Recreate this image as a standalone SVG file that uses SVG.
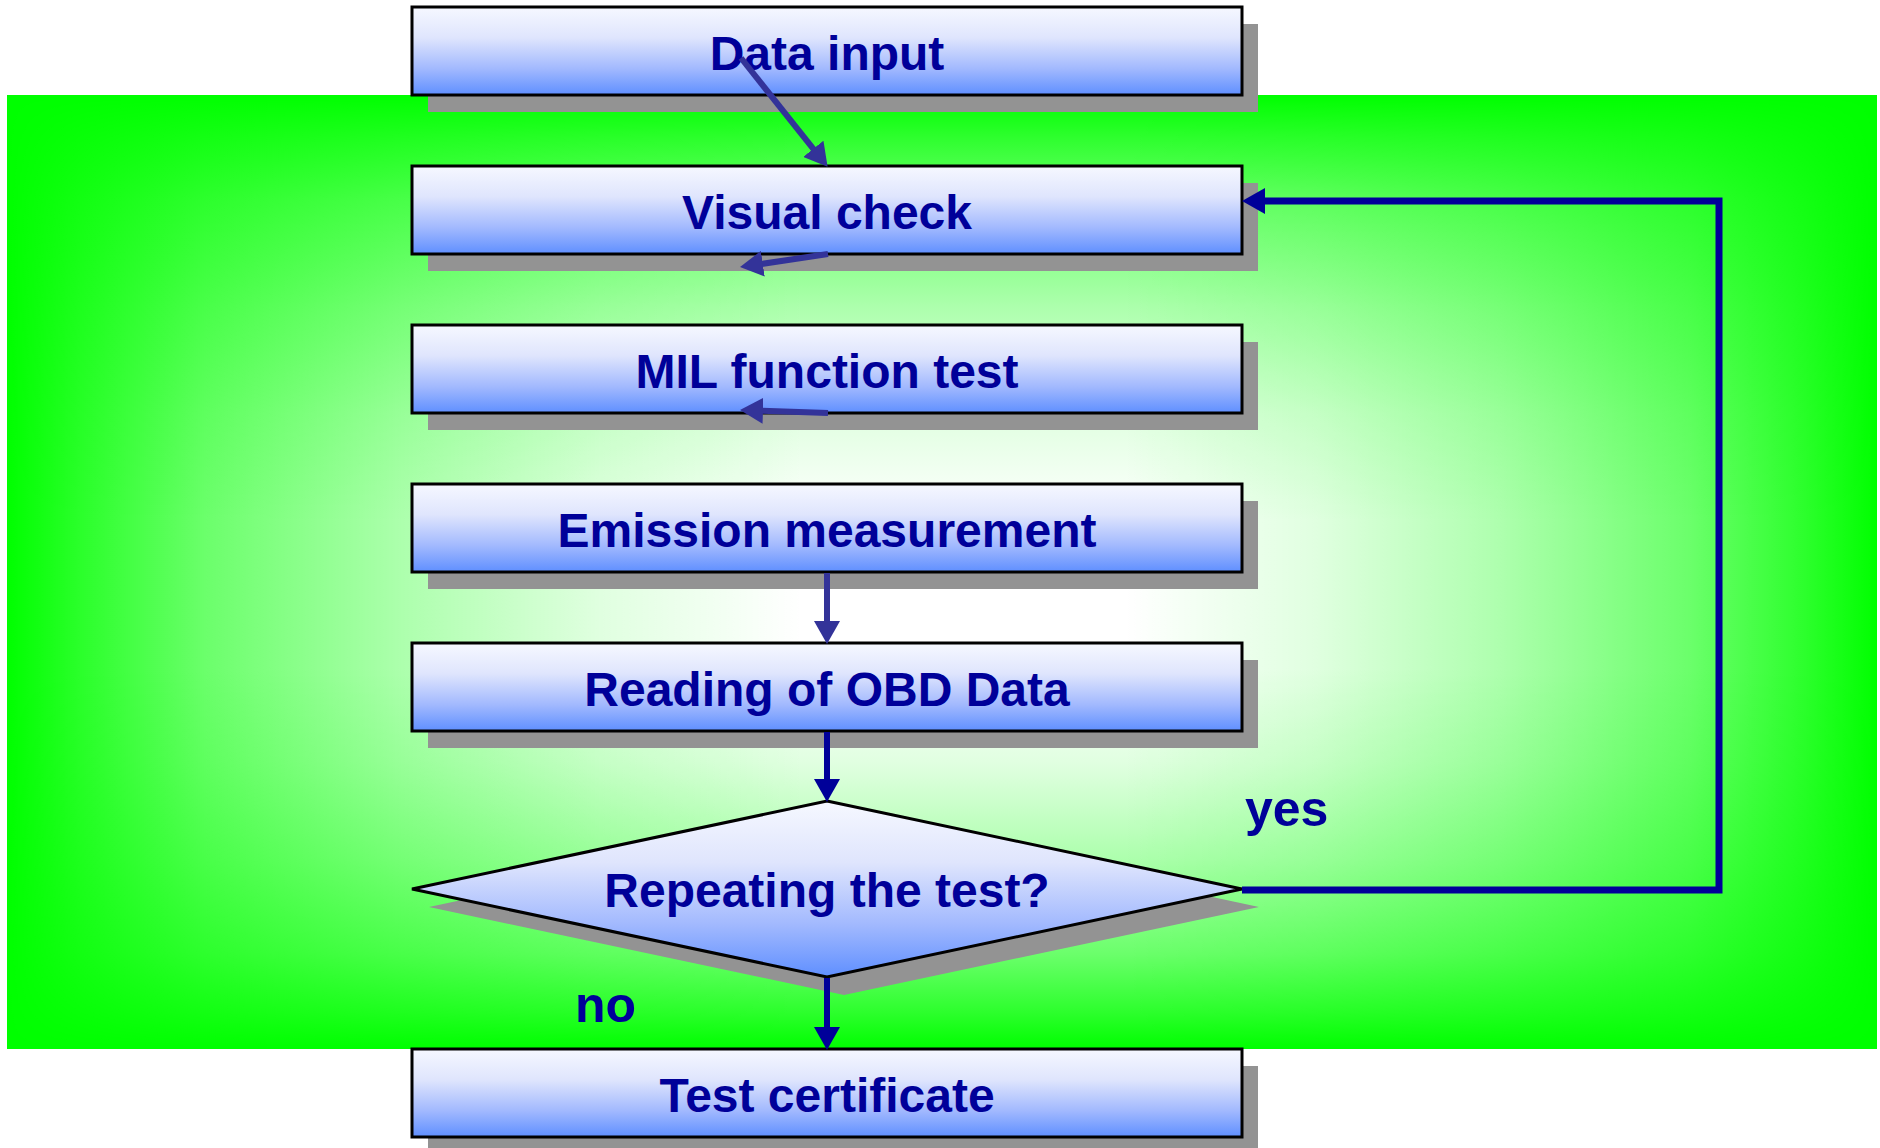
<svg xmlns="http://www.w3.org/2000/svg" width="1880" height="1148" viewBox="0 0 1880 1148">
  <defs>
    <!-- horizontal part of the backdrop glow: white whose opacity fades towards the left and right edges -->
    <linearGradient id="glowAcross" gradientUnits="userSpaceOnUse" x1="7" y1="0" x2="1877" y2="0">
      <stop offset="0" stop-color="#ffffff" stop-opacity="0"/>
      <stop offset="0.0422" stop-color="#ffffff" stop-opacity="0.18"/>
      <stop offset="0.1059" stop-color="#ffffff" stop-opacity="0.42"/>
      <stop offset="0.212" stop-color="#ffffff" stop-opacity="0.68"/>
      <stop offset="0.3182" stop-color="#ffffff" stop-opacity="0.88"/>
      <stop offset="0.4241" stop-color="#ffffff" stop-opacity="1"/>
      <stop offset="0.5989" stop-color="#ffffff" stop-opacity="1"/>
      <stop offset="0.6992" stop-color="#ffffff" stop-opacity="0.88"/>
      <stop offset="0.7995" stop-color="#ffffff" stop-opacity="0.68"/>
      <stop offset="0.8997" stop-color="#ffffff" stop-opacity="0.42"/>
      <stop offset="0.9599" stop-color="#ffffff" stop-opacity="0.18"/>
      <stop offset="1" stop-color="#ffffff" stop-opacity="0"/>
    </linearGradient>
    <!-- vertical part of the glow, used as a luminance mask -->
    <linearGradient id="glowDown" gradientUnits="userSpaceOnUse" x1="0" y1="95" x2="0" y2="1049">
      <stop offset="0" stop-color="#000000"/>
      <stop offset="0.0446" stop-color="#2e2e2e"/>
      <stop offset="0.1111" stop-color="#6b6b6b"/>
      <stop offset="0.2227" stop-color="#adadad"/>
      <stop offset="0.3344" stop-color="#e0e0e0"/>
      <stop offset="0.4455" stop-color="#ffffff"/>
      <stop offset="0.6017" stop-color="#ffffff"/>
      <stop offset="0.7013" stop-color="#e0e0e0"/>
      <stop offset="0.8008" stop-color="#adadad"/>
      <stop offset="0.9004" stop-color="#6b6b6b"/>
      <stop offset="0.9602" stop-color="#2e2e2e"/>
      <stop offset="1" stop-color="#000000"/>
    </linearGradient>
    <mask id="glowMask" maskUnits="userSpaceOnUse" x="7" y="95" width="1870" height="954">
      <rect x="7" y="95" width="1870" height="954" fill="url(#glowDown)"/>
    </mask>
    <linearGradient id="nodeFill" x1="0" y1="0" x2="0" y2="1">
      <stop offset="0" stop-color="#f6f8ff"/>
      <stop offset="0.35" stop-color="#dfe5fd"/>
      <stop offset="0.7" stop-color="#a2b9fe"/>
      <stop offset="1" stop-color="#5f8fff"/>
    </linearGradient>
    <marker id="headSlate" markerUnits="userSpaceOnUse" markerWidth="24" markerHeight="26" refX="10" refY="13" orient="auto">
      <path d="M0,0 L23,13 L0,26 z" fill="#333399"/>
    </marker>
    <marker id="headNavy" markerUnits="userSpaceOnUse" markerWidth="24" markerHeight="26" refX="10" refY="13" orient="auto">
      <path d="M0,0 L23,13 L0,26 z" fill="#000099"/>
    </marker>
  </defs>
  <style>
    .shadow { fill: #939393; }
    .node { fill: url(#nodeFill); stroke: #000000; stroke-width: 3; }
    .label { font-family: "Liberation Sans", Arial, sans-serif; font-weight: bold; font-size: 48px; fill: #000099; text-anchor: middle; }
    .branch { font-family: "Liberation Sans", Arial, sans-serif; font-weight: bold; font-size: 50px; fill: #000099; }
    .flow { fill: none; stroke-width: 6; }
    .slate { stroke: #333399; marker-end: url(#headSlate); }
    .navy { stroke: #000099; marker-end: url(#headNavy); }
  </style>

  <!-- green backdrop with a soft white glow in the middle -->
  <g id="backdrop">
    <rect x="7" y="95" width="1870" height="954" fill="#00ff00"/>
    <rect x="7" y="95" width="1870" height="954" fill="url(#glowAcross)" mask="url(#glowMask)"/>
  </g>

  <g id="data-input">
    <rect class="shadow" x="428" y="24" width="830" height="88"/>
    <rect class="node" x="412" y="7" width="830" height="88"/>
    <text class="label" x="827" y="70">Data input</text>
  </g>

  <g id="visual-check">
    <rect class="shadow" x="428" y="183" width="830" height="88"/>
    <rect class="node" x="412" y="166" width="830" height="88"/>
    <text class="label" x="827" y="229">Visual check</text>
  </g>

  <g id="mil-function-test">
    <rect class="shadow" x="428" y="342" width="830" height="88"/>
    <rect class="node" x="412" y="325" width="830" height="88"/>
    <text class="label" x="827" y="388">MIL function test</text>
  </g>

  <g id="emission-measurement">
    <rect class="shadow" x="428" y="501" width="830" height="88"/>
    <rect class="node" x="412" y="484" width="830" height="88"/>
    <text class="label" x="827" y="547">Emission measurement</text>
  </g>

  <g id="reading-obd-data">
    <rect class="shadow" x="428" y="660" width="830" height="88"/>
    <rect class="node" x="412" y="643" width="830" height="88"/>
    <text class="label" x="827" y="706">Reading of OBD Data</text>
  </g>

  <g id="repeat-decision">
    <polygon class="shadow" points="844,818 1259,907 844,995 429,907"/>
    <polygon class="node" points="827,801 1242,889 827,977 412,889"/>
    <text class="label" x="827" y="907">Repeating the test?</text>
  </g>

  <g id="test-certificate">
    <rect class="shadow" x="428" y="1066" width="830" height="88"/>
    <rect class="node" x="412" y="1049" width="830" height="88"/>
    <text class="label" x="827" y="1112">Test certificate</text>
  </g>

  <g id="connectors">
    <line class="flow slate" x1="741" y1="58" x2="819.5" y2="156.6"/>
    <line class="flow slate" x1="828" y1="254" x2="752.9" y2="265.2"/>
    <line class="flow slate" x1="828" y1="413" x2="753" y2="410.4"/>
    <line class="flow slate" x1="827" y1="573" x2="827" y2="631"/>
    <line class="flow navy" x1="827" y1="732" x2="827" y2="789"/>
    <line class="flow navy" x1="827" y1="978" x2="827" y2="1037"/>
    <polyline class="flow navy" style="stroke-width:7" points="1242,890 1719,890 1719,201 1255,201"/>
  </g>

  <g id="branch-labels">
    <text class="branch" x="1245" y="826">yes</text>
    <text class="branch" x="575" y="1022">no</text>
  </g>
</svg>
